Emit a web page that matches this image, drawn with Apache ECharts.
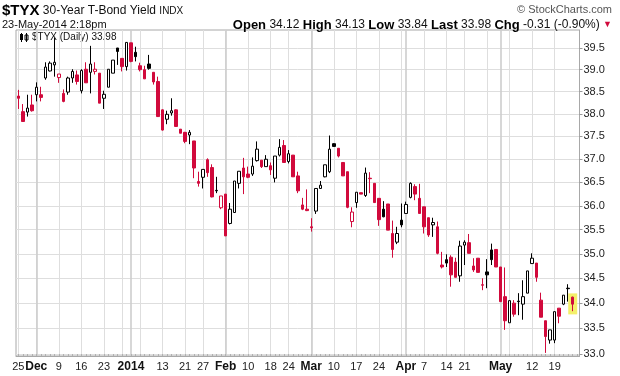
<!DOCTYPE html>
<html><head><meta charset="utf-8">
<script src="https://cdn.jsdelivr.net/npm/echarts@6/dist/echarts.min.js"></script>
<style>html,body{margin:0;padding:0;background:#fff}#c{width:620px;height:376px}</style>
</head><body><div id="c"></div>
<script>
const dates = [
'2013-11-25','2013-11-26','2013-11-27','2013-11-29',
'2013-12-02','2013-12-03','2013-12-04','2013-12-05','2013-12-06','2013-12-09','2013-12-10','2013-12-11','2013-12-12','2013-12-13','2013-12-16','2013-12-17','2013-12-18','2013-12-19','2013-12-20','2013-12-23','2013-12-24','2013-12-26','2013-12-27','2013-12-30','2013-12-31',
'2014-01-02','2014-01-03','2014-01-06','2014-01-07','2014-01-08','2014-01-09','2014-01-10','2014-01-13','2014-01-14','2014-01-15','2014-01-16','2014-01-17','2014-01-21','2014-01-22','2014-01-23','2014-01-24','2014-01-27','2014-01-28','2014-01-29','2014-01-30','2014-01-31',
'2014-02-03','2014-02-04','2014-02-05','2014-02-06','2014-02-07','2014-02-10','2014-02-11','2014-02-12','2014-02-13','2014-02-14','2014-02-18','2014-02-19','2014-02-20','2014-02-21','2014-02-24','2014-02-25','2014-02-26','2014-02-27','2014-02-28',
'2014-03-03','2014-03-04','2014-03-05','2014-03-06','2014-03-07','2014-03-10','2014-03-11','2014-03-12','2014-03-13','2014-03-14','2014-03-17','2014-03-18','2014-03-19','2014-03-20','2014-03-21','2014-03-24','2014-03-25','2014-03-26','2014-03-27','2014-03-28','2014-03-31',
'2014-04-01','2014-04-02','2014-04-03','2014-04-04','2014-04-07','2014-04-08','2014-04-09','2014-04-10','2014-04-11','2014-04-14','2014-04-15','2014-04-16','2014-04-17','2014-04-21','2014-04-22','2014-04-23','2014-04-24','2014-04-25','2014-04-28','2014-04-29','2014-04-30',
'2014-05-01','2014-05-02','2014-05-05','2014-05-06','2014-05-07','2014-05-08','2014-05-09','2014-05-12','2014-05-13','2014-05-14','2014-05-15','2014-05-16','2014-05-19','2014-05-20','2014-05-21','2014-05-22','2014-05-23'
];
const opens = [38.40,38.05,38.04,38.20,38.43,38.43,38.81,38.97,39.11,38.82,
38.46,38.49,38.81,38.88,38.52,39.01,38.94,38.96,38.92,38.35,
38.60,38.92,39.50,39.26,39.07,39.62,39.40,39.09,39.00,39.13,
38.94,38.73,38.09,37.88,38.02,38.09,37.66,37.59,37.53,37.40,
36.52,36.61,36.99,36.82,36.33,35.96,36.25,35.63,35.86,36.48,
36.81,36.68,36.68,36.97,36.98,36.84,36.86,36.59,37.09,37.30,
36.95,37.09,36.64,36.02,35.93,35.56,35.89,36.37,36.62,36.73,
37.34,37.24,36.93,36.73,35.67,36.07,36.28,36.22,36.59,36.48,
36.16,35.93,36.04,35.42,35.24,35.70,35.84,36.18,36.41,36.16,
35.98,35.75,35.60,35.56,34.77,34.88,34.93,34.83,34.55,35.18,
35.23,34.75,34.91,34.37,34.63,35.08,35.09,34.73,34.13,33.61,
34.00,34.04,33.98,34.20,34.80,34.81,34.06,33.65,33.27,33.27,
33.90,33.98,34.30,34.12];
const closes = [38.35,37.83,38.13,38.07,38.60,38.37,39.06,39.15,39.17,38.90,
38.28,38.81,38.96,38.73,38.98,38.70,39.13,39.01,38.24,38.44,
39.01,39.22,39.42,39.07,39.63,39.19,39.30,39.00,38.79,39.03,
38.72,37.94,37.64,37.99,38.07,37.72,37.57,37.39,37.59,36.81,
36.48,36.78,36.71,36.19,36.32,36.21,35.37,35.93,36.53,36.74,
36.62,36.61,36.85,37.22,36.84,37.00,36.77,37.07,37.26,36.93,
37.12,36.62,36.32,35.93,35.90,35.54,36.37,36.44,36.88,37.22,
37.28,37.07,36.64,35.97,35.87,36.29,36.25,36.70,36.58,36.07,
35.71,35.77,35.49,35.09,35.42,35.60,36.03,36.48,36.25,35.84,
35.56,35.39,35.65,35.01,34.73,34.81,34.57,34.52,35.16,35.24,
35.01,34.67,34.62,34.36,34.57,34.88,34.73,34.03,33.65,34.05,
33.78,34.03,34.13,34.65,34.91,34.52,33.72,33.34,33.47,33.83,
33.74,34.16,34.29,33.98];
const lows = [38.11,37.83,37.94,38.05,38.28,38.28,38.77,38.96,38.84,38.70,
38.26,38.43,38.70,38.66,38.46,38.70,38.46,38.89,38.24,38.11,
38.60,38.92,39.11,38.96,38.98,39.17,39.19,38.96,38.79,39.00,
38.66,37.93,37.63,37.77,37.96,37.71,37.57,37.35,37.33,36.59,
36.41,36.37,36.62,36.18,36.27,35.93,35.37,35.61,35.86,36.37,
36.25,36.59,36.64,36.95,36.81,36.84,36.66,36.50,37.06,36.93,
36.91,36.62,36.27,35.91,35.89,35.46,35.83,36.37,36.61,36.70,
37.28,37.04,36.64,35.95,35.55,35.96,36.25,36.19,36.27,36.07,
35.58,35.76,35.49,34.92,35.20,35.55,35.84,36.16,36.12,35.84,
35.42,35.35,35.35,34.99,34.70,34.73,34.33,34.52,34.43,34.77,
35.01,34.63,34.62,34.26,34.30,34.77,34.73,34.03,33.47,33.61,
33.73,33.76,33.67,34.20,34.80,34.43,33.72,33.02,33.20,33.21,
33.60,33.96,34.03,33.84];
const highs = [38.54,38.22,38.43,38.43,38.71,38.61,39.17,39.19,39.74,38.90,
38.55,38.84,39.01,38.98,39.01,39.17,39.55,39.17,38.92,38.52,
39.01,39.22,39.50,39.26,39.63,39.62,39.53,39.16,39.09,39.34,
38.94,38.84,38.10,38.07,38.35,38.10,37.66,37.60,37.64,37.40,
36.73,36.78,37.02,36.89,36.62,36.21,36.25,36.06,36.53,36.74,
37.03,36.84,37.04,37.39,36.98,37.09,36.93,37.07,37.44,37.42,
37.20,37.09,36.73,36.17,36.35,35.74,36.37,36.53,36.88,37.52,
37.35,37.24,36.93,36.73,35.97,36.29,36.28,36.82,36.72,36.48,
36.16,36.10,36.04,35.69,35.56,36.05,36.09,36.50,36.46,36.47,
35.98,35.75,35.75,35.67,35.04,34.99,34.97,34.92,35.27,35.28,
35.41,34.91,34.91,34.50,34.89,35.21,35.09,34.73,34.72,34.05,
34.06,34.20,34.46,34.65,35.01,34.81,34.21,33.65,33.47,33.83,
33.90,34.16,34.38,34.13];
const priorClose = 38.45;

// x-axis: weekly grid lines, month grid lines, and labelled dates
const weekLineDates = ['2013-11-25','2013-12-02','2013-12-09','2013-12-16','2013-12-23','2013-12-30','2014-01-06','2014-01-13','2014-01-21','2014-01-27','2014-02-03','2014-02-10','2014-02-18','2014-02-24','2014-03-03','2014-03-10','2014-03-17','2014-03-24','2014-03-31','2014-04-07','2014-04-14','2014-04-21','2014-04-28','2014-05-05','2014-05-12','2014-05-19'];
const monthLineDates = ['2013-12-02','2014-01-02','2014-02-03','2014-03-03','2014-04-01','2014-05-01'];
const tickDates = ['2013-11-25','2013-12-02','2013-12-09','2013-12-16','2013-12-23','2014-01-02','2014-01-13','2014-01-21','2014-01-27','2014-02-03','2014-02-10','2014-02-18','2014-02-24','2014-03-03','2014-03-10','2014-03-17','2014-03-24','2014-04-01','2014-04-07','2014-04-14','2014-04-21','2014-05-01','2014-05-12','2014-05-19'];
const tickLabels = ['25','Dec','9','16','23','2014','13','21','27','Feb','10','18','24','Mar','10','17','24','Apr','7','14','21','May','12','19'];
const boldLabels = ['Dec','2014','Feb','Mar','Apr','May'];

// y-axis ticks
const yTicks = [33.0,33.5,34.0,34.5,35.0,35.5,36.0,36.5,37.0,37.5,38.0,38.5,39.0,39.5];

const RED = '#d10a3c', BLACK = '#000000';
const categories = dates.concat(['']);
const last = dates.length - 1;

const candleData = dates.map((d, i) => {
  const o = opens[i], c = closes[i], l = lows[i], h = highs[i];
  const pc = i === 0 ? priorClose : closes[i - 1];
  const col = c >= pc ? BLACK : RED;
  const hollow = c > o;
  const fill = hollow ? '#ffffff' : col;
  return { value: [o, c, l, h], itemStyle: { color: fill, color0: fill, borderColor: col, borderColor0: col } };
});

const chart = echarts.init(document.getElementById('c'), null, { renderer: 'canvas' });
const FONT = 'Liberation Sans, Arial, sans-serif';
chart.setOption({
  animation: false,
  backgroundColor: '#ffffff',
  grid: { left: 16, right: 40.5, top: 30, bottom: 20, show: true, borderColor: '#a8a8a8', borderWidth: 1, backgroundColor: 'transparent' },
  xAxis: [{
    type: 'category', data: categories, boundaryGap: true,
    axisLine: { show: true, lineStyle: { color: '#a8a8a8' } },
    axisTick: { show: true, interval: 0, length: 2, inside: true, alignWithLabel: true, lineStyle: { color: '#b0b0b0' } },
    axisLabel: {
      interval: (idx, val) => tickDates.indexOf(val) >= 0,
      formatter: (val) => { const t = tickLabels[tickDates.indexOf(val)]; return boldLabels.indexOf(t) >= 0 ? '{b|' + t + '}' : t; },
      color: '#222', fontSize: 11, fontFamily: FONT, margin: 5,
      rich: { b: { fontWeight: 'bold', fontSize: 12, fontFamily: FONT, color: '#111' } }
    },
    splitLine: { show: true, alignWithLabel: true, interval: (idx, val) => weekLineDates.indexOf(val) >= 0, lineStyle: { color: '#dedede', width: 1 } }
  }, {
    type: 'category', data: categories, boundaryGap: true, position: 'bottom',
    axisLine: { show: false }, axisTick: { show: false }, axisLabel: { show: false },
    splitLine: { show: true, alignWithLabel: true, interval: (idx, val) => monthLineDates.indexOf(val) >= 0, lineStyle: { color: '#cdcdcd', width: 1.6 } }
  }],
  yAxis: {
    type: 'log', position: 'right', min: 32.96, max: 39.92,
    axisLine: { show: true, lineStyle: { color: '#a8a8a8' } },
    axisTick: { show: true, customValues: yTicks, length: 3, lineStyle: { color: '#999' } },
    axisLabel: { customValues: yTicks, formatter: (v) => Number(v).toFixed(1), color: '#222', fontSize: 11, fontFamily: FONT, margin: 4 },
    splitLine: { show: true, lineStyle: { color: '#dedede', width: 1 } }
  },
  series: [{
    type: 'candlestick', xAxisIndex: 0, data: candleData, barWidth: 3, z: 3,
    itemStyle: { borderWidth: 1 },
    markPoint: {
      z: 1, silent: true, symbol: 'rect', symbolSize: [9, 21], label: { show: false },
      itemStyle: { color: '#f4f06a' },
      data: [{ coord: [dates[last], (highs[last] + lows[last]) / 2] }]
    }
  }],
  graphic: [
    { type: 'text', x: 2, y: 11, style: { text: '{a|$TYX} {b|30-Year T-Bond Yield} {c|INDX}', verticalAlign: 'middle', rich: {
      a: { fontFamily: FONT, fontSize: 15, fontWeight: 'bold', fill: '#000' },
      b: { fontFamily: FONT, fontSize: 12, fill: '#111' },
      c: { fontFamily: FONT, fontSize: 10, fill: '#111' } } } },
    { type: 'text', x: 612, y: 10, style: { text: '© StockCharts.com', align: 'right', verticalAlign: 'middle', font: '11px ' + FONT, fill: '#555' } },
    { type: 'text', x: 2, y: 25, style: { text: '23-May-2014 2:18pm', verticalAlign: 'middle', font: '11px ' + FONT, fill: '#111' } },
    { type: 'text', x: 612, y: 25, style: { text: '{k|Open} 34.12 {k|High} 34.13 {k|Low} 33.84 {k|Last} ' + closes[last].toFixed(2) + ' {k|Chg} -0.31 (-0.90%) {r|▼}', align: 'right', verticalAlign: 'middle', font: '12px ' + FONT, fill: '#111', rich: {
      k: { fontFamily: FONT, fontSize: 13, fontWeight: 'bold', fill: '#000' },
      r: { fontFamily: FONT, fontSize: 9, fill: RED } } } },
    { type: 'group', x: 20, y: 33, children: [
      { type: 'rect', shape: { x: 0, y: 1, width: 3, height: 6 }, style: { fill: '#000' } },
      { type: 'rect', shape: { x: 1, y: 0, width: 1, height: 9 }, style: { fill: '#000' } },
      { type: 'rect', shape: { x: 5, y: 2, width: 3, height: 5 }, style: { fill: '#fff', stroke: '#000', lineWidth: 1 } },
      { type: 'rect', shape: { x: 6, y: 0, width: 1, height: 9 }, style: { fill: '#000' } }
    ] },
    { type: 'text', x: 32, y: 37, style: { text: '$TYX (Daily) ' + closes[last].toFixed(2), verticalAlign: 'middle', font: '10px ' + FONT, fill: '#111' } }
  ]
});
</script></body></html>
